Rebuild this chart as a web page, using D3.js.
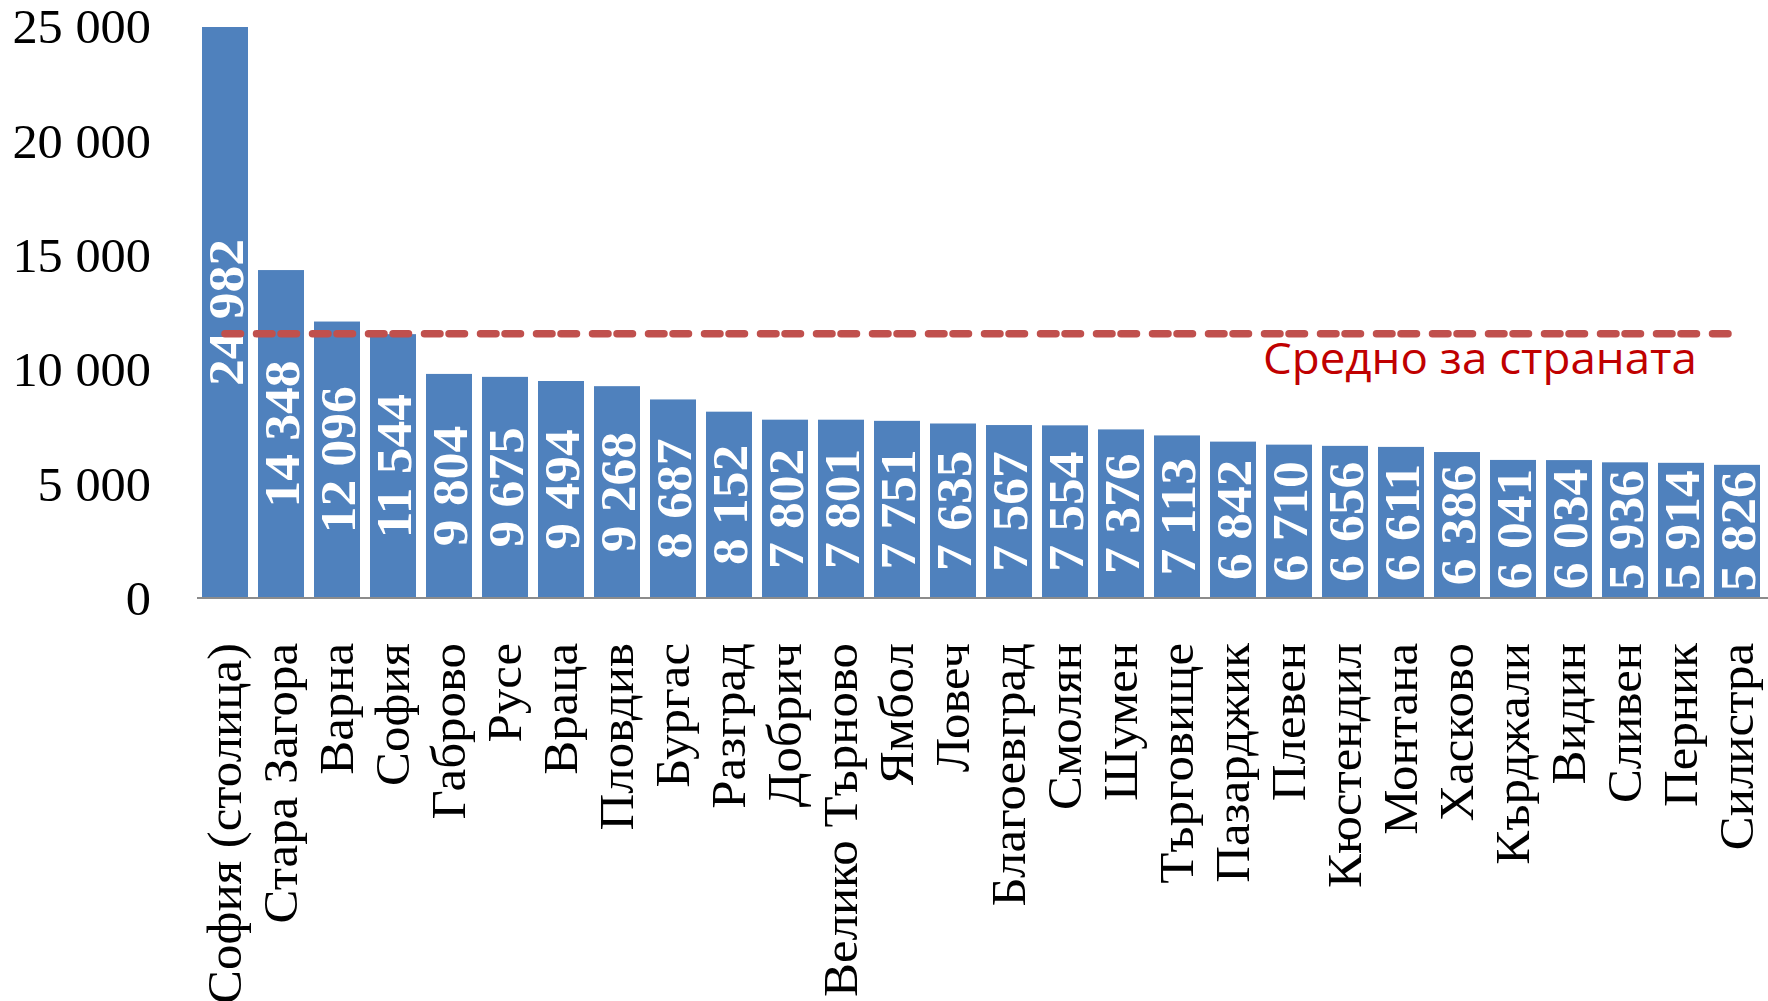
<!DOCTYPE html>
<html>
<head>
<meta charset="utf-8">
<script src="https://cdn.jsdelivr.net/npm/d3@7"></script>
<style>
html, body { margin: 0; padding: 0; background: #fff; }
svg { display: block; }
</style>
</head>
<body>
<svg id="chart" width="1768" height="1001"></svg>
<script>
const categories = ["София (столица)", "Стара Загора", "Варна", "София", "Габрово", "Русе", "Враца", "Пловдив", "Бургас", "Разград", "Добрич", "Велико Търново", "Ямбол", "Ловеч", "Благоевград", "Смолян", "Шумен", "Търговище", "Пазарджик", "Плевен", "Кюстендил", "Монтана", "Хасково", "Кърджали", "Видин", "Сливен", "Перник", "Силистра"];
const values = [24982, 14348, 12096, 11544, 9804, 9675, 9494, 9268, 8687, 8152, 7802, 7801, 7751, 7635, 7567, 7554, 7376, 7113, 6842, 6710, 6656, 6611, 6386, 6041, 6034, 5936, 5914, 5826];
const nationalAverage = 11564;
const averageLabel = "Средно за страната";
const yTicks = [0, 5000, 10000, 15000, 20000, 25000];

const svg = d3.select("#chart");
const locale = d3.formatLocale({decimal: ",", thousands: " ", grouping: [3], currency: ["", ""]});
const fmt = locale.format(",d");

const x = d3.scaleBand().domain(categories).range([197, 1765]).paddingInner(10/56).paddingOuter(5/56);
const y = d3.scaleLinear().domain([0, 25000]).range([598, 26.6]);

// Y axis tick labels
const yAxis = d3.axisLeft(y).tickValues(yTicks).tickFormat(fmt).tickSize(0).tickPadding(0);
const gy = svg.append("g").attr("transform", "translate(151,0)").call(yAxis);
gy.select(".domain").remove();
gy.selectAll("text")
  .attr("font-family", "'Liberation Serif', 'Times New Roman', serif")
  .attr("font-size", 48)
  .attr("fill", "#000")
  .attr("dy", "0.34em")
  .attr("transform", "scale(1.05,1)");

// Bars
svg.append("g").selectAll("rect").data(values).join("rect")
  .attr("x", (d, i) => x(categories[i]))
  .attr("y", d => y(d))
  .attr("width", x.bandwidth())
  .attr("height", d => y(0) - y(d))
  .attr("fill", "#4F81BD");

// X axis (baseline + rotated category labels)
const xAxis = d3.axisBottom(x).tickSize(0).tickPadding(0);
const gx = svg.append("g").attr("transform", `translate(0,${y(0)})`).call(xAxis);
gx.select(".domain").attr("d", "M197,0H1768").attr("stroke", "#8c8c8c").attr("stroke-width", 2);
gx.selectAll(".tick text")
  .attr("font-family", "'Liberation Serif', 'Times New Roman', serif")
  .attr("font-size", 48)
  .attr("fill", "#000")
  .attr("text-anchor", "end")
  .attr("y", 0)
  .attr("dy", "0.33em")
  .attr("transform", "translate(0,45) rotate(-90) scale(1.06,1)");

// Value labels
svg.append("g").selectAll("text").data(values).join("text")
  .attr("transform", (d, i) => `translate(${x(categories[i]) + x.bandwidth()/2},${(y(d) + y(0))/2}) rotate(-90) scale(1.07,1)`)
  .attr("text-anchor", "middle")
  .attr("dy", "0.35em")
  .attr("font-family", "'Liberation Serif', 'Times New Roman', serif")
  .attr("font-weight", "bold")
  .attr("font-size", 50)
  .attr("fill", "#fff")
  .text(d => fmt(d));

// National average dashed line
const line = d3.line().x(d => x(d) + x.bandwidth()/2).y(() => y(nationalAverage));
svg.append("path")
  .datum(categories)
  .attr("d", line)
  .attr("fill", "none")
  .attr("stroke", "#C0504D")
  .attr("stroke-width", 7.5)
  .attr("stroke-linecap", "round")
  .attr("stroke-dasharray", "15.5 16 15.5 9");

svg.append("text")
  .attr("x", 1263)
  .attr("y", 374)
  .attr("font-family", "'Open Sans', 'Noto Sans', sans-serif")
  .attr("font-size", 44)
  .attr("fill", "#C00000")
  .attr("textLength", 434)
  .attr("lengthAdjust", "spacingAndGlyphs")
  .text(averageLabel);
</script>
</body>
</html>
